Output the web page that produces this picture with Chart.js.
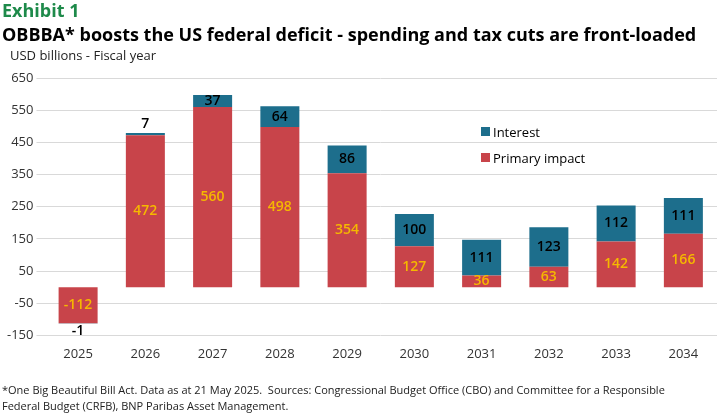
<!DOCTYPE html>
<html>
<head>
<meta charset="utf-8">
<script src="https://cdn.jsdelivr.net/npm/chart.js@4"></script>
<style>
  body { margin: 0; background: #fff; }
  #wrap { width: 725px; height: 415px; position: relative; }
</style>
</head>
<body>
<div id="wrap"><canvas id="chart" width="725" height="415"></canvas></div>
<script>
const YEARS = ["2025", "2026", "2027", "2028", "2029", "2030", "2031", "2032", "2033", "2034"];
const PRIMARY = [-112, 472, 560, 498, 354, 127, 36, 63, 142, 166];
const INTEREST = [-1, 7, 37, 64, 86, 100, 111, 123, 112, 111];

const RED = "#c8444a";
const TEAL = "#1d6e8c";
const FONT = "'Open Sans', sans-serif";

// headings, legend, footnote
const decor = {
    id: "decor",
    afterDraw(chart) {
        const c = chart.ctx;
        c.save();
        c.textBaseline = "alphabetic";
        c.fillStyle = "#1e8a4a";
        c.font = "bold 18px " + FONT;
        c.fillText("Exhibit 1", 2, 17);
        c.fillStyle = "#000";
        c.font = "bold 18px " + FONT;
        c.fillText("OBBBA* boosts the US federal deficit - spending and tax cuts are front-loaded", 2, 41);
        c.fillStyle = "#222";
        c.font = "13px " + FONT;
        c.fillText("USD billions - Fiscal year", 10, 60);

        c.font = "13px " + FONT;
        c.fillStyle = TEAL;
        c.fillRect(481, 127, 9, 9);
        c.fillStyle = RED;
        c.fillRect(481, 153, 9, 9);
        c.fillStyle = "#000";
        c.fillText("Interest", 493, 137);
        c.fillText("Primary impact", 493, 163);

        c.fillStyle = "#222";
        c.font = "11px " + FONT;
        c.fillText("*One Big Beautiful Bill Act. Data as at 21 May 2025.  Sources: Congressional Budget Office (CBO) and Committee for a Responsible", 2, 394);
        c.fillText("Federal Budget (CRFB), BNP Paribas Asset Management.", 2, 410);
        c.restore();
    }
};

// value labels on the bars
const valueLabels = {
    id: "valueLabels",
    afterDatasetsDraw(chart) {
        const c = chart.ctx;
        c.save();
        c.textAlign = "center";
        c.textBaseline = "middle";
        c.font = "600 14px " + FONT;
        chart.data.datasets.forEach((ds, di) => {
            chart.getDatasetMeta(di).data.forEach((bar, i) => {
                const v = ds.data[i];
                const h = Math.abs(bar.base - bar.y);
                let y = (bar.y + bar.base) / 2;
                if (h < 6) y = v < 0 ? bar.y + 8 : bar.y - 9;
                c.fillStyle = di === 0 ? "#f5b800" : "#000";
                c.fillText(String(v), bar.x, y);
            });
        });
        c.restore();
    }
};

new Chart(document.getElementById("chart").getContext("2d"), {
    type: "bar",
    data: {
        labels: YEARS,
        datasets: [
            { label: "Primary impact", data: PRIMARY, backgroundColor: RED, stack: "s" },
            { label: "Interest", data: INTEREST, backgroundColor: TEAL, stack: "s" }
        ]
    },
    options: {
        responsive: false,
        animation: false,
        layout: { padding: { top: 78, bottom: 50, right: 8, left: 4 } },
        datasets: { bar: { barPercentage: 0.58, categoryPercentage: 1 } },
        scales: {
            x: {
                stacked: true,
                grid: { display: false },
                border: { display: false },
                ticks: { color: "#333", font: { family: FONT, size: 13 } }
            },
            y: {
                stacked: true,
                min: -150, max: 650,
                border: { display: false },
                grid: { color: "#d9d9d9" },
                ticks: { stepSize: 100, color: "#333", font: { family: FONT, size: 13 } }
            }
        },
        plugins: { legend: { display: false }, tooltip: { enabled: false } }
    },
    plugins: [decor, valueLabels]
});
</script>
</body>
</html>
